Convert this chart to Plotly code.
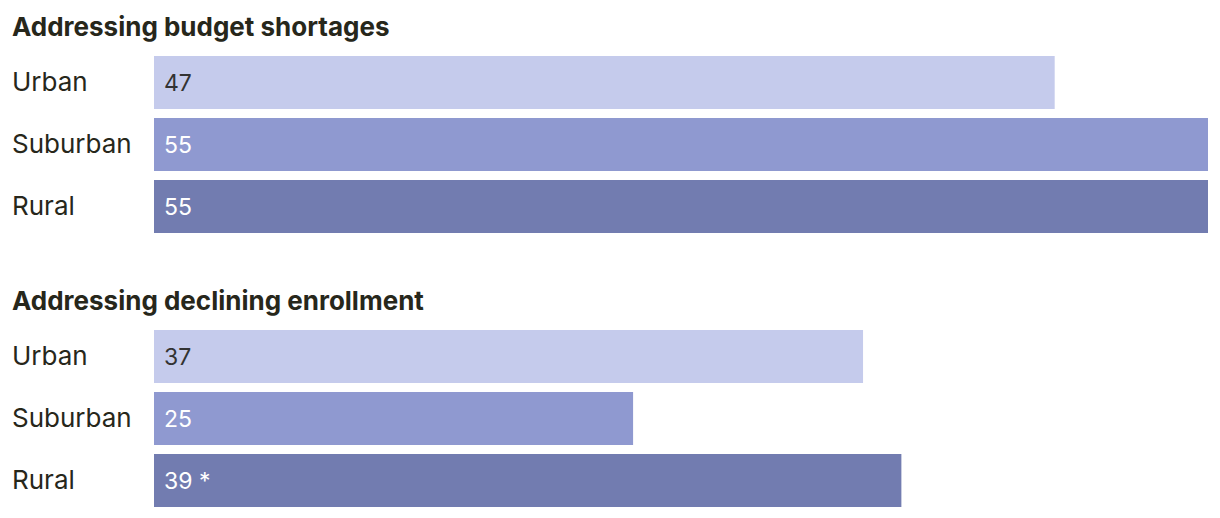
import plotly.graph_objects as go

categories = ["Urban", "Suburban", "Rural"]
budget_values = [47, 55, 55]
budget_text = ["47", "55", "55"]
enroll_values = [37, 25, 39]
enroll_text = ["37", "25", "39 *"]
titles = ["Addressing budget shortages", "Addressing declining enrollment"]

colors = ["#c5cbec", "#8f99d0", "#727cb0"]
text_colors = ["#333333", "#ffffff", "#ffffff"]

OFF = 8  # page offset of the figure inside the browser window
W, H = 1220 - OFF, 518 - OFF
FONT = "Inter"

fig = go.Figure()
for vals, ax, ay in [(budget_values, "x", "y"), (enroll_values, "x2", "y2")]:
    fig.add_trace(go.Bar(
        x=vals, y=categories, orientation="h",
        marker=dict(color=colors, line=dict(width=0)),
        xaxis=ax, yaxis=ay, hoverinfo="skip",
    ))

def pdom(top_px, bot_px):
    return [1 - (bot_px - OFF) / H, 1 - (top_px - OFF) / H]

left_px, right_px = 154, 1208
xdom = [(left_px - OFF) / W, (right_px - OFF) / W]

common_x = dict(range=[0, 55], showgrid=False, showticklabels=False, zeroline=False,
                showline=False, ticks="", fixedrange=True)
common_y = dict(showgrid=False, showticklabels=False, zeroline=False, showline=False,
                ticks="", autorange=False, range=[2.5, -0.5], type="category",
                categoryorder="array", categoryarray=categories)

fig.update_layout(
    width=W, height=H,
    margin=dict(l=0, r=0, t=0, b=0),
    paper_bgcolor="white", plot_bgcolor="white",
    showlegend=False,
    bargap=9 / 62,
    xaxis=dict(domain=xdom, anchor="y", **common_x),
    yaxis=dict(domain=pdom(51.5, 237.5), anchor="x", **common_y),
    xaxis2=dict(domain=xdom, anchor="y2", **common_x),
    yaxis2=dict(domain=pdom(325.5, 511.5), anchor="x2", **common_y),
    font=dict(family=FONT, color="#27271b"),
)

ann = []
for title, ty in zip(titles, [27, 300]):
    ann.append(dict(text="<b>" + title + "</b>", xref="paper", yref="paper",
                    x=(10 - OFF) / W, y=1 - (ty - OFF) / H, xanchor="left", yanchor="middle",
                    showarrow=False, font=dict(size=26, color="#27271b", family=FONT)))
for yref in ["y", "y2"]:
    for c in categories:
        ann.append(dict(text=c, xref="paper", yref=yref, x=(10 - OFF) / W, y=c, yshift=1.5,
                        xanchor="left", yanchor="middle", showarrow=False,
                        font=dict(size=26, color="#27271b", family=FONT)))
for xref, yref, texts in [("x", "y", budget_text), ("x2", "y2", enroll_text)]:
    for c, t, tc in zip(categories, texts, text_colors):
        ann.append(dict(text=t, xref=xref, yref=yref, x=0, y=c, xshift=8,
                        xanchor="left", yanchor="middle", showarrow=False,
                        font=dict(size=23, color=tc, family=FONT)))
fig.update_layout(annotations=ann)

fig.write_html("out.html")
